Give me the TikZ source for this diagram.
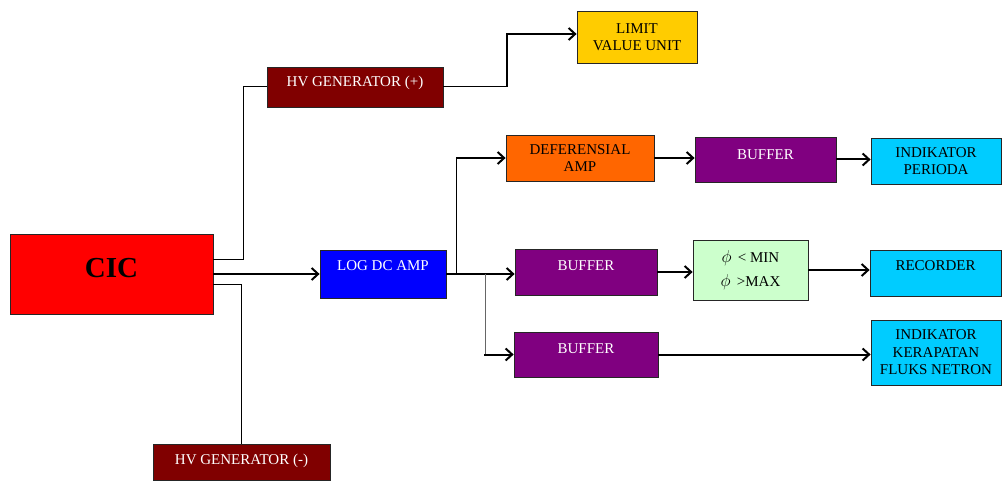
\documentclass[tikz,border=0pt]{standalone}
\usepackage{fontspec}
\setmainfont{Liberation Serif}
\usetikzlibrary{arrows.meta}
\definecolor{cicred}{HTML}{FF0000}
\definecolor{hvred}{HTML}{800000}
\definecolor{limy}{HTML}{FFCC00}
\definecolor{logb}{HTML}{0000FF}
\definecolor{defo}{HTML}{FF6600}
\definecolor{bufp}{HTML}{800080}
\definecolor{indc}{HTML}{00CCFF}
\definecolor{phig}{HTML}{CCFFCC}
\tikzset{
  box/.style={draw=black!85, line width=0.8pt, inner sep=0pt, align=center,
    font=\fontsize{15}{17.5}\selectfont},
  lift/.style={text height=9.9pt, text depth=#1},
  ln/.style={line width=1pt, draw=black},
  gln/.style={line width=1.2pt, draw=black!60},
  arr/.style={line width=2pt, draw=black, -{Straight Barb[length=6.5pt,width=12pt]}},
}
\newcommand{\myphi}{{\fontsize{19}{19}\selectfont$\phi$}}
\begin{document}
\begin{tikzpicture}[x=1pt,y=-1pt]
\useasboundingbox (0,0) rectangle (1002,481);
% nodes
\node[box, fill=cicred, minimum width=203, minimum height=80,
  font=\fontsize{29}{32}\selectfont\bfseries, text height=19.2pt, text depth=12pt]
  (cic) at (111.5,274) {CIC};
\node[box, fill=hvred, text=white, minimum width=176, minimum height=40, lift=10pt]
  (hvp) at (355,87) {HV GENERATOR (+)};
\node[box, fill=hvred, text=white, minimum width=177, minimum height=36, lift=4pt]
  (hvm) at (241.5,462) {HV GENERATOR (-)};
\node[box, fill=limy, minimum width=120, minimum height=52]
  (limit) at (637,37) {LIMIT\\VALUE UNIT};
\node[box, fill=logb, text=white, minimum width=126, minimum height=48, lift=16pt]
  (log) at (383,274) {LOG DC AMP};
\node[box, fill=defo, minimum width=148, minimum height=46]
  (def) at (580,158) {DEFERENSIAL\\AMP};
\node[box, fill=bufp, text=white, minimum width=141, minimum height=45, lift=10pt]
  (buf1) at (765.5,159.5) {BUFFER};
\node[box, fill=indc, minimum width=130, minimum height=46]
  (ind) at (936,161) {INDIKATOR\\PERIODA};
\node[box, fill=bufp, text=white, minimum width=142, minimum height=46, lift=12pt]
  (buf2) at (586,272) {BUFFER};
\node[box, fill=phig, minimum width=115, minimum height=60]
  (phi) at (750.5,270) {\myphi\ \,< MIN\\[6pt]\myphi\ \,>MAX};
\node[box, fill=indc, minimum width=131, minimum height=46, lift=14pt]
  (rec) at (935.5,273) {RECORDER};
\node[box, fill=bufp, text=white, minimum width=144, minimum height=45, lift=12pt]
  (buf3) at (586,354.5) {BUFFER};
\node[box, fill=indc, minimum width=130, minimum height=65]
  (ker) at (936,352.5) {INDIKATOR\\KERAPATAN\\FLUKS NETRON};
% connectors
\draw[ln] ([yshift=14pt]cic.east) -- ++(30,0) |- (hvp.west);
\draw[ln] ([yshift=-11pt]cic.east) -| (hvm.north);
\draw[arr] (cic.east) -- (log.west);
\draw[ln] (hvp.east) -- ++(64,0) coordinate (k1);
\draw[arr] (k1) |- ([yshift=3pt]limit.west);
\draw[arr] (log.east) -- (log.east -| buf2.west);
\draw[ln] ([xshift=10pt]log.east) -- ([xshift=10pt]log.east |- def.west) coordinate (b1);
\draw[arr] (b1) -- (def.west);
\draw[gln] ([xshift=39pt]log.east) -- ([xshift=39pt]log.east |- buf3.west) coordinate (b2);
\draw[arr] ([xshift=-1pt]b2) -- (buf3.west);
\draw[arr] (def.east) -- (def.east -| buf1.west);
\draw[arr] (buf1.east) -- (buf1.east -| ind.west);
\draw[arr] (buf2.east) -- (buf2.east -| phi.west);
\draw[arr] (phi.east) -- (phi.east -| rec.west);
\draw[arr] (buf3.east) -- (buf3.east -| ker.west);
\end{tikzpicture}
\end{document}
